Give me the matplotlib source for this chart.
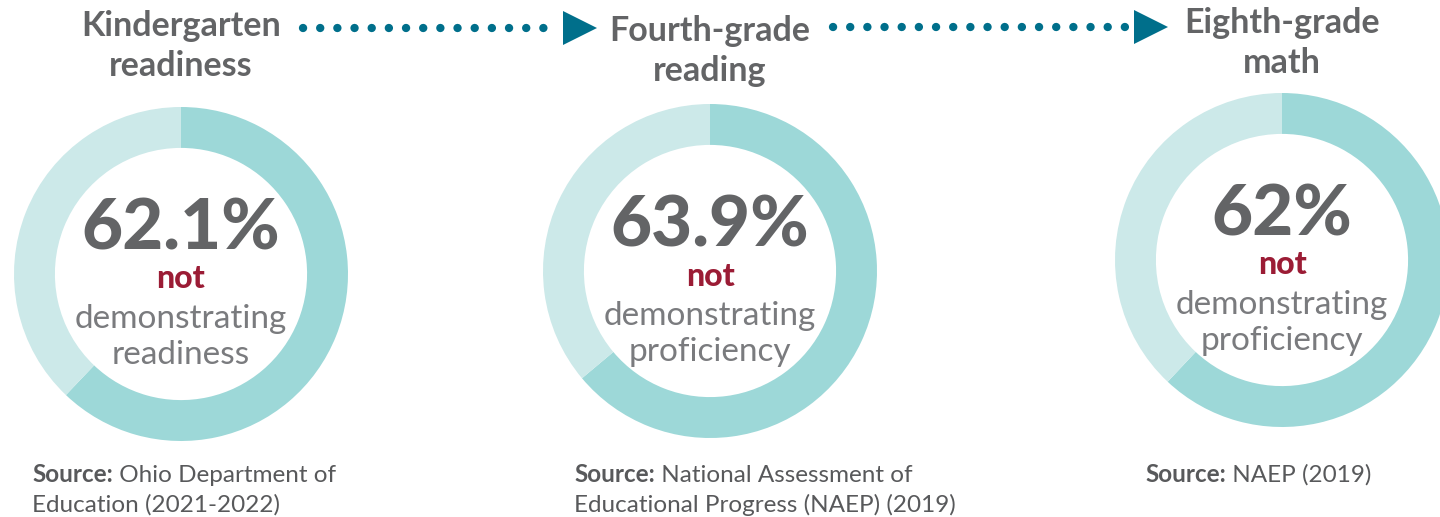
import matplotlib.pyplot as plt

# data
stages = ['Kindergarten\nreadiness', 'Fourth-grade\nreading', 'Eighth-grade\nmath']
pct_not = [62.1, 63.9, 62.0]
pct_labels = ['62.1%', '63.9%', '62%']
measure = ['demonstrating\nreadiness', 'demonstrating\nproficiency', 'demonstrating\nproficiency']
src_line1 = ['Ohio Department of', 'National Assessment of', 'NAEP (2019)']
src_line2 = ['Education (2021-2022)', 'Educational Progress (NAEP) (2019)', '']

# layout in pixel units (y measured from top of the picture)
W, H = 1440, 517
centers = [(181, 274), (710, 271), (1282, 260)]
R = 167
title_y = [46, 51, 43]
src_x = [32, 574, 1145]

dark = '#9dd8d8'
light = '#cce9e9'
gray = '#636466'
red = '#9b1c35'
arrow_c = '#006f8b'

plt.rcParams['font.family'] = ['Lato', 'DejaVu Sans']

fig = plt.figure(figsize=(W / 100, H / 100), dpi=100)
ax = fig.add_axes([0, 0, 1, 1])

def fy(py):
    return H - py

for i in range(3):
    cx, cy = centers[i]
    ax.pie([pct_not[i], 100 - pct_not[i]], colors=[dark, light], startangle=90,
           counterclock=False, radius=R, center=(cx, fy(cy)),
           wedgeprops=dict(width=R * 0.245, linewidth=0))

# pie resets the limits, so fix them afterwards
ax.set_xlim(0, W)
ax.set_ylim(0, H)
ax.set_aspect('equal')
ax.axis('off')

for i in range(3):
    cx, cy = centers[i]
    ax.text(cx, fy(title_y[i]), stages[i], ha='center', va='center', fontsize=24.5,
            color=gray, fontweight='bold', linespacing=1.32)
    ax.text(cx, fy(cy - 45), pct_labels[i], ha='center', va='center', fontsize=51,
            color=gray, fontweight='black')
    ax.text(cx, fy(cy + 5), 'not', ha='center', va='center', fontsize=23,
            color=red, fontweight='black')
    ax.text(cx, fy(cy + 63), measure[i], ha='center', va='center', fontsize=24,
            color='#7a7b7e', fontweight='normal', linespacing=1.22)
    s = ax.text(src_x[i], fy(474), 'Source:', ha='left', va='center', fontsize=17.5,
                color='#58595b', fontweight='bold')
    ax.annotate(' ' + src_line1[i], xy=(1, 0), xycoords=s, ha='left', va='bottom',
                fontsize=17.5, color='#58595b')
    ax.text(src_x[i], fy(505), src_line2[i], ha='left', va='center', fontsize=17.5,
            color='#58595b')

# dotted arrows between stages
arrows = [(303, 556, 28), (833, 1127, 27)]
for x0, x1, y in arrows:
    ax.plot([x0, x1], [fy(y), fy(y)], color=arrow_c, lw=6,
            linestyle=(0, (0.01, 2.05)), dash_capstyle='round')
    ax.plot([x1 + 24], [fy(y)], marker='>', color=arrow_c, markersize=24,
            markeredgewidth=0)

fig.savefig('out.png', dpi=100)
